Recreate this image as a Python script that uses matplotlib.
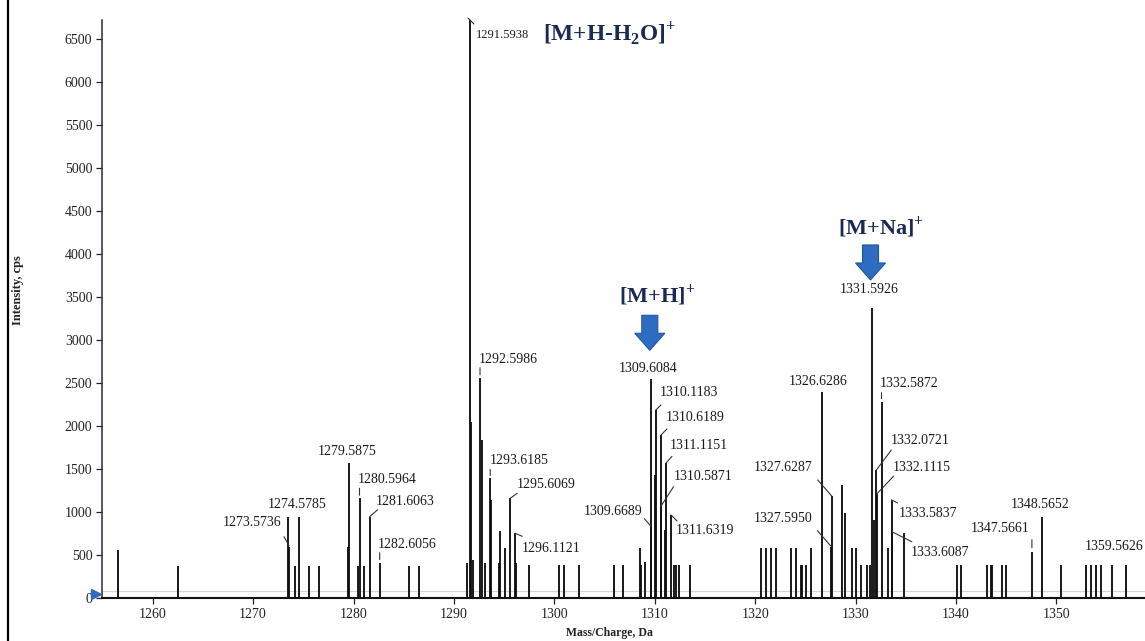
import matplotlib
matplotlib.use("Agg")
import matplotlib.pyplot as plt
from matplotlib import transforms
from matplotlib.patches import Polygon
from matplotlib.lines import Line2D
from matplotlib.transforms import offset_copy

plt.rcParams['font.family'] = ['Liberation Serif', 'DejaVu Serif']
plt.rcParams['mathtext.fontset'] = 'custom'
plt.rcParams['mathtext.rm'] = 'Liberation Serif'
plt.rcParams['mathtext.bf'] = 'Liberation Serif:bold'

# ---------------- data ----------------
# unlabeled peaks (m/z, intensity in cps)
peak_mz = [1256.57, 1262.49, 1273.45, 1274.14, 1275.57, 1276.53, 1279.45, 1280.45,
           1281.05, 1285.50, 1286.50, 1291.27, 1291.75, 1291.90, 1292.75, 1293.10,
           1293.65, 1294.52, 1294.62, 1295.06, 1296.20, 1297.50, 1300.47, 1301.00,
           1302.43, 1305.95, 1306.85, 1308.50, 1308.60, 1309.06, 1310.05, 1311.05,
           1311.95, 1312.10, 1312.45, 1313.52, 1320.57, 1321.07, 1321.57, 1322.10,
           1323.55, 1324.05, 1324.52, 1324.62, 1325.09, 1325.55, 1328.61, 1329.00,
           1329.60, 1330.03, 1330.53, 1331.10, 1331.43, 1331.85, 1333.19, 1334.81,
           1340.08, 1340.50, 1343.06, 1343.50, 1343.60, 1344.56, 1344.99, 1350.47,
           1352.96, 1353.43, 1353.93, 1354.45, 1355.52, 1356.95]
peak_int = [558, 372, 945, 376, 376, 376, 597, 376,
            376, 370, 370, 403, 2050, 440, 1837, 403,
            1140, 403, 779, 577, 403, 384, 384, 384,
            384, 384, 384, 577, 384, 415, 1430, 790,
            384, 384, 384, 384, 577, 577, 577, 577,
            577, 577, 384, 384, 384, 577, 1314, 985,
            577, 577, 384, 384, 384, 907, 577, 760,
            384, 384, 384, 384, 384, 384, 384, 384,
            384, 384, 384, 384, 384, 384]

# labeled peaks
label_mz = [1273.5736, 1274.5785, 1279.5875, 1280.5964, 1281.6063, 1282.6056,
            1291.5938, 1292.5986, 1293.6185, 1295.6069, 1296.1121, 1309.6084,
            1309.6689, 1310.1183, 1310.5871, 1310.6189, 1311.1151, 1311.6319,
            1326.6286, 1327.5950, 1327.6287, 1331.5926, 1332.0721, 1332.1115,
            1332.5872, 1333.5837, 1333.6087, 1347.5661, 1348.5652, 1359.5626]
label_int = [597, 945, 1573, 1160, 945, 410,
             6720, 2560, 1390, 1159, 752, 2543,
             829, 2186, 1062, 1895, 1566, 965,
             2399, 597, 1186, 3372, 1488, 1209,
             2283, 1140, 771, 538, 946, 480]
label_text = ["1273.5736", "1274.5785", "1279.5875", "1280.5964", "1281.6063", "1282.6056",
              "1291.5938", "1292.5986", "1293.6185", "1295.6069", "1296.1121", "1309.6084",
              "1309.6689", "1310.1183", "1310.5871", "1310.6189", "1311.1151", "1311.6319",
              "1326.6286", "1327.5950", "1327.6287", "1331.5926", "1332.0721", "1332.1115",
              "1332.5872", "1333.5837", "1333.6087", "1347.5661", "1348.5652", "1359.5626"]

ion_text = ["[M+H-H$_\\mathbf{2}$O]$^\\mathbf{+}$", "[M+H]$^\\mathbf{+}$", "[M+Na]$^\\mathbf{+}$"]
ion_peak = ["1291.5938", "1309.6084", "1331.5926"]

x_ticks = [1260, 1270, 1280, 1290, 1300, 1310, 1320, 1330, 1340, 1350]
y_ticks = [0, 500, 1000, 1500, 2000, 2500, 3000, 3500, 4000, 4500, 5000, 5500, 6000, 6500]

# ---------------- layout (pixel offsets from peak tops) ----------------
label_offset = [(-37, 24), (-2, 12), (-2, 11), (28, 19), (35, 15), (27, 18),
                (33, -15), (28, 18), (29, 18), (36, 14), (36, -15), (-3, 11),
                (-38, 15), (33, 17), (42, 30), (34, 18), (33, 18), (34, -16),
                (-4, 10), (-48, 28), (-49, 28), (-2, 18), (44, 30), (45, 27),
                (28, 18), (36, -14), (48, -21), (-32, 23), (-2, 12), (-38, 10)]
leaders = {
    "1273.5736": ((0, 1), (-5, 10)),
    "1280.5964": ((0, 3), (0, 10)),
    "1281.6063": ((0, 0), (8, 7)),
    "1282.6056": ((0, 3), (0, 10)),
    "1291.5938": ((-2, 2), (4, -4)),
    "1292.5986": ((0, 3), (0, 10)),
    "1293.6185": ((0, 3), (0, 9)),
    "1295.6069": ((0, 0), (7, 5)),
    "1296.1121": ((0, 0), (7, -3)),
    "1309.6689": ((-1, 1), (-7, 8)),
    "1310.1183": ((0, 0), (5, 5)),
    "1310.5871": ((0, 0), (13, 20)),
    "1310.6189": ((0, 0), (6, 6)),
    "1311.1151": ((0, 0), (6, 7)),
    "1311.6319": ((0, 0), (6, -6)),
    "1327.5950": ((0, 0), (-14, 16)),
    "1327.6287": ((0, 0), (-14, 16)),
    "1332.0721": ((0, 0), (15, 20)),
    "1332.1115": ((0, 0), (17, 18)),
    "1332.5872": ((0, 3), (0, 9)),
    "1333.5837": ((0, 0), (6, -3)),
    "1333.6087": ((0, 0), (20, -10)),
    "1347.5661": ((0, 4), (0, 12)),
}
ion_offset = [(140, -13), (6, 84), (9, 81)]
ion_size = [16.8, 16, 16]
arrow_offset = [None, (-1, 29), (-1, 28)]

# ---------------- figure ----------------
W, H = 1145, 641
fig = plt.figure(figsize=(W / 100, H / 100), dpi=100)
ax_left, ax_right, ax_bottom, ax_top = 102, 1145, 598, 20
ax = fig.add_axes([ax_left / W, (H - ax_bottom) / H,
                   (ax_right - ax_left) / W, (ax_bottom - ax_top) / H])

ax.set_xlim(1254.95, 1358.83)
ax.set_ylim(0, 6720)

# faint baseline
ax.axhline(80, color='#d4d4d4', lw=0.8, zorder=0)

all_mz = peak_mz + label_mz
all_int = peak_int + label_int
ax.vlines(all_mz, 0, all_int, colors='#111111', lw=1.35, zorder=2)

label_col = '#1a1a1a'
for m, v, t, (dx, dy) in zip(label_mz, label_int, label_text, label_offset):
    fs = 9 if t == "1291.5938" else 10
    ax.annotate(t, xy=(m, v), xytext=(dx, dy), textcoords='offset pixels',
                ha='center', va='center', fontsize=fs, color=label_col,
                annotation_clip=False, zorder=4)
    if t in leaders:
        (x0, y0), (x1, y1) = leaders[t]
        tr = offset_copy(ax.transData, fig=fig, x=x0, y=y0, units='dots')
        ax.annotate('', xy=(m, v), xycoords=tr, xytext=(x1 - x0, y1 - y0),
                    textcoords='offset pixels',
                    arrowprops=dict(arrowstyle='-', lw=0.8, color='#333333',
                                    shrinkA=0, shrinkB=0),
                    annotation_clip=False, zorder=3)

# ion annotations and arrows
ion_col = '#1b2a55'
arrow_verts = [(0, 0), (15, 17), (8, 17), (8, 35), (-8, 35), (-8, 17), (-15, 17)]
for txt, pk, (dx, dy), fs, aoff in zip(ion_text, ion_peak, ion_offset, ion_size, arrow_offset):
    i = label_text.index(pk)
    m, v = label_mz[i], label_int[i]
    ax.annotate(txt, xy=(m, v), xytext=(dx, dy), textcoords='offset pixels',
                ha='center', va='center', fontsize=fs, fontweight='bold',
                color=ion_col, annotation_clip=False, zorder=5)
    if aoff is not None:
        tr = (transforms.Affine2D().translate(aoff[0], aoff[1]) +
              transforms.ScaledTranslation(m, v, ax.transData))
        poly = Polygon(arrow_verts, closed=True, transform=tr,
                       facecolor='#2e6cc2', edgecolor='#1f56a3', lw=0.8,
                       clip_on=False, zorder=5)
        ax.add_patch(poly)

# axes styling
for s in ('top', 'right'):
    ax.spines[s].set_visible(False)
ax.spines['left'].set_linestyle((0, (2, 1)))
ax.spines['left'].set_color('#2a2a40')
ax.spines['left'].set_linewidth(1.1)
ax.spines['bottom'].set_color('#111111')
ax.spines['bottom'].set_linewidth(1.5)

ax.set_xticks(x_ticks)
ax.set_yticks(y_ticks)
ax.tick_params(axis='both', direction='out', length=4, width=0.9,
               labelsize=10, colors='#222222', pad=3)

# origin marker
ax.plot([-0.006], [0.007], marker='>', ms=7, color='#2e6cc2',
        transform=ax.transAxes, clip_on=False, zorder=6)

# axis titles
fig.text(18 / W, 1 - 290 / H, 'Intensity, cps', rotation=90, ha='center',
         va='center', fontsize=9, fontweight='bold', color='#222222')
fig.text(609 / W, 1 - 633 / H, 'Mass/Charge, Da', ha='center', va='center',
         fontsize=8.5, fontweight='bold', color='#222222')

# left border line
fig.add_artist(Line2D([8 / W, 8 / W], [0, 1], transform=fig.transFigure,
                      color='black', lw=1.6))

fig.savefig('out.png', dpi=100)
